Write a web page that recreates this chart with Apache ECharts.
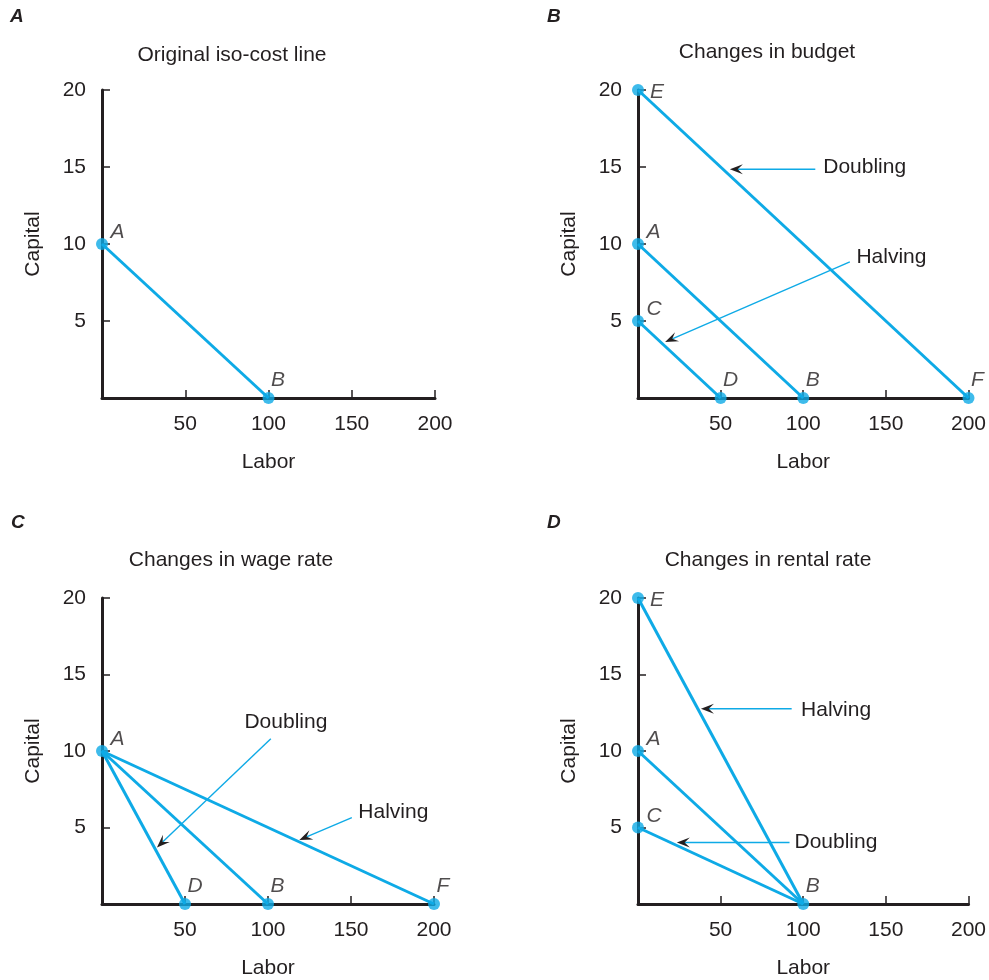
<!DOCTYPE html>
<html>
<head>
<meta charset="utf-8">
<script src="https://cdn.jsdelivr.net/npm/echarts@6/dist/echarts.min.js"></script>
<style>
html,body{margin:0;padding:0;background:#fff;}
#chart{width:989px;height:980px;}
</style>
</head>
<body>
<div id="chart"></div>
<script>
// ---------- data ----------
const panelLetters = ['A', 'B', 'C', 'D'];
const panelTitles = ['Original iso-cost line', 'Changes in budget', 'Changes in wage rate', 'Changes in rental rate'];
const xTickValues = [0, 50, 100, 150, 200];
const yTickValues = [0, 5, 10, 15, 20];
const xAxisName = 'Labor';
const yAxisName = 'Capital';

// points: name, labor, capital
const pointsA = { names: ['A', 'B'], labor: [0, 100], capital: [10, 0] };
const pointsB = { names: ['E', 'A', 'C', 'D', 'B', 'F'], labor: [0, 0, 0, 50, 100, 200], capital: [20, 10, 5, 0, 0, 0] };
const pointsC = { names: ['A', 'D', 'B', 'F'], labor: [0, 50, 100, 200], capital: [10, 0, 0, 0] };
const pointsD = { names: ['E', 'A', 'C', 'B'], labor: [0, 0, 0, 100], capital: [20, 10, 5, 0] };

// iso-cost lines as pairs of point names
const linesA = [['A', 'B']];
const linesB = [['E', 'F'], ['A', 'B'], ['C', 'D']];
const linesC = [['A', 'D'], ['A', 'B'], ['A', 'F']];
const linesD = [['E', 'B'], ['A', 'B'], ['C', 'B']];

// annotation arrows (data units): text, arrow start, arrow tip, text anchor
const notesA = [];
const notesB = [
  { text: 'Doubling', from: [107.3, 14.85], to: [55.6, 14.85], at: [112.1, 15.0] },
  { text: 'Halving', from: [128.2, 8.84], to: [16.4, 3.64], at: [132.2, 9.16] }
];
const notesC = [
  { text: 'Doubling', from: [101.7, 10.8], to: [33.1, 3.70], at: [85.8, 11.85] },
  { text: 'Halving', from: [150.5, 5.65], to: [118.9, 4.19], at: [154.4, 5.98] }
];
const notesD = [
  { text: 'Halving', from: [93.0, 12.76], to: [38.1, 12.76], at: [98.7, 12.67] },
  { text: 'Doubling', from: [91.7, 4.02], to: [23.5, 4.02], at: [94.7, 4.04] }
];

// ---------- styles / layout ----------
const BLUE = '#0eaae6';
const INK = '#231f20';
const FONT = '"Liberation Sans", Arial, Helvetica, sans-serif';
const panels = [
  { pts: pointsA, lines: linesA, notes: notesA, grid: { left: 102, top: 90, width: 333, height: 308 }, titleXY: [232, 55], letterXY: [10, 17] },
  { pts: pointsB, lines: linesB, notes: notesB, grid: { left: 638, top: 90, width: 332, height: 308 }, titleXY: [767, 52], letterXY: [547, 17] },
  { pts: pointsC, lines: linesC, notes: notesC, grid: { left: 102, top: 598, width: 332, height: 307 }, titleXY: [231, 560], letterXY: [11, 523] },
  { pts: pointsD, lines: linesD, notes: notesD, grid: { left: 638, top: 598, width: 332, height: 307 }, titleXY: [768, 560], letterXY: [547, 523] }
];
const xMax = xTickValues[xTickValues.length - 1];
const yMax = yTickValues[yTickValues.length - 1];

const grids = [], xAxes = [], yAxes = [], series = [], graphics = [];

panels.forEach((p, i) => {
  grids.push(Object.assign({ containLabel: false }, p.grid));
  xAxes.push({
    type: 'value', gridIndex: i, min: 0, max: xMax, interval: xTickValues[1] - xTickValues[0],
    name: xAxisName, nameLocation: 'middle', nameGap: 54,
    nameTextStyle: { fontFamily: FONT, fontSize: 21, color: INK },
    axisLine: { show: true, onZero: false, lineStyle: { color: INK, width: 3 } },
    axisTick: { show: true, inside: true, length: 8, lineStyle: { color: INK, width: 1.5 } },
    axisLabel: { fontFamily: FONT, fontSize: 21, color: INK, margin: 16, formatter: v => v === 0 ? '' : String(v) },
    splitLine: { show: false }
  });
  yAxes.push({
    type: 'value', gridIndex: i, min: 0, max: yMax, interval: yTickValues[1] - yTickValues[0],
    name: yAxisName, nameLocation: 'middle', nameGap: 58,
    nameTextStyle: { fontFamily: FONT, fontSize: 21, color: INK },
    axisLine: { show: true, onZero: false, lineStyle: { color: INK, width: 3 } },
    axisTick: { show: true, inside: true, length: 8, lineStyle: { color: INK, width: 1.5 } },
    axisLabel: { fontFamily: FONT, fontSize: 21, color: INK, margin: 16, formatter: v => v === 0 ? '' : String(v) },
    splitLine: { show: false }
  });

  const idx = name => p.pts.names.indexOf(name);
  p.lines.forEach(pair => {
    const a = idx(pair[0]), b = idx(pair[1]);
    series.push({
      type: 'line', xAxisIndex: i, yAxisIndex: i, silent: true, symbol: 'none', z: 3,
      lineStyle: { color: BLUE, width: 3 },
      data: [[p.pts.labor[a], p.pts.capital[a]], [p.pts.labor[b], p.pts.capital[b]]]
    });
  });

  series.push({
    type: 'scatter', xAxisIndex: i, yAxisIndex: i, silent: true, z: 5,
    symbol: 'circle', symbolSize: 12, itemStyle: { color: BLUE },
    data: p.pts.names.map((n, k) => {
      const lx = p.pts.labor[k], cy = p.pts.capital[k];
      let off;
      if (lx === 0 && cy === yMax) off = [6, 2];
      else if (lx === 0) off = [2.5, -11.5];
      else off = [-3.5, -17.5];
      return {
        value: [lx, cy], name: n,
        label: { show: true, position: 'right', distance: 0, offset: off, formatter: n,
                 fontFamily: FONT, fontSize: 21, fontStyle: 'italic', color: INK }
      };
    })
  });

  if (p.notes.length) {
    const notes = p.notes;
    series.push({
      type: 'custom', xAxisIndex: i, yAxisIndex: i, silent: true, z: 6, clip: false,
      data: notes.map(n => [n.from[0], n.from[1], n.to[0], n.to[1], n.at[0], n.at[1]]),
      renderItem: function (params, api) {
        const p1 = api.coord([api.value(0), api.value(1)]);
        const p2 = api.coord([api.value(2), api.value(3)]);
        const t = api.coord([api.value(4), api.value(5)]);
        const dx = p2[0] - p1[0], dy = p2[1] - p1[1];
        const len = Math.sqrt(dx * dx + dy * dy);
        const ux = dx / len, uy = dy / len, nx = -uy, ny = ux;
        const L = 13, W = 5;
        const back = [p2[0] - ux * L, p2[1] - uy * L];
        const notch = [p2[0] - ux * L * 0.6, p2[1] - uy * L * 0.6];
        return {
          type: 'group',
          children: [
            { type: 'line', shape: { x1: p1[0], y1: p1[1], x2: notch[0], y2: notch[1] },
              style: { stroke: BLUE, lineWidth: 1.4 } },
            { type: 'polygon', shape: { points: [p2, [back[0] + nx * W, back[1] + ny * W], notch, [back[0] - nx * W, back[1] - ny * W]] },
              style: { fill: INK } },
            { type: 'text', x: t[0], y: t[1],
              style: { text: notes[params.dataIndex].text, font: '21px ' + FONT, fill: INK,
                       align: 'left', verticalAlign: 'middle', textAlign: 'left', textVerticalAlign: 'middle' } }
          ]
        };
      }
    });
  }

  graphics.push({
    type: 'text', x: p.titleXY[0], y: p.titleXY[1],
    style: { text: panelTitles[i], font: '21px ' + FONT, fill: INK, align: 'center', verticalAlign: 'middle', textAlign: 'center', textVerticalAlign: 'middle' }
  });
  graphics.push({
    type: 'text', x: p.letterXY[0], y: p.letterXY[1],
    style: { text: panelLetters[i], font: 'italic bold 19px ' + FONT, fill: INK, align: 'left', verticalAlign: 'middle', textAlign: 'left', textVerticalAlign: 'middle' }
  });
});

const chart = echarts.init(document.getElementById('chart'), null, { renderer: 'canvas' });
chart.setOption({
  backgroundColor: '#ffffff',
  animation: false,
  grid: grids,
  xAxis: xAxes,
  yAxis: yAxes,
  series: series,
  graphic: graphics
});
</script>
</body>
</html>
